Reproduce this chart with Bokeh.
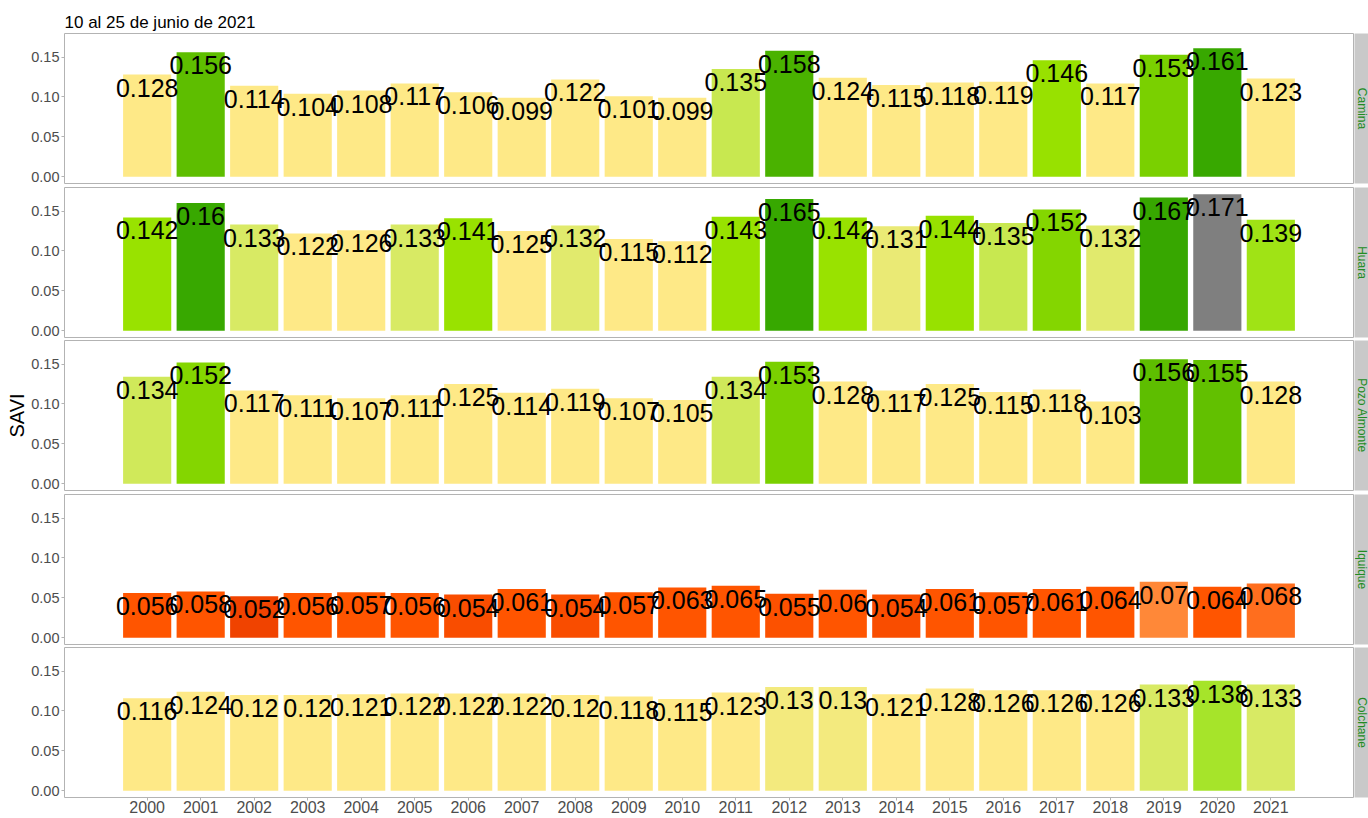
import math
from bokeh.plotting import figure
from bokeh.models import Range1d, FixedTicker, NumeralTickFormatter, ColumnDataSource
from bokeh.layouts import column, row
from bokeh.core.properties import value
from bokeh.embed import file_html
from bokeh.resources import INLINE

# ---------------- data ----------------
title_text = "10 al 25 de junio de 2021"
y_label = "SAVI"
years = list(range(2000, 2022))
panels = ["Camina", "Huara", "Pozo Almonte", "Iquique", "Colchane"]

camina = [0.128, 0.156, 0.114, 0.104, 0.108, 0.117, 0.106, 0.099, 0.122, 0.101, 0.099,
          0.135, 0.158, 0.124, 0.115, 0.118, 0.119, 0.146, 0.117, 0.153, 0.161, 0.123]
huara = [0.142, 0.16, 0.133, 0.122, 0.126, 0.133, 0.141, 0.125, 0.132, 0.115, 0.112,
         0.143, 0.165, 0.142, 0.131, 0.144, 0.135, 0.152, 0.132, 0.167, 0.171, 0.139]
pozo_almonte = [0.134, 0.152, 0.117, 0.111, 0.107, 0.111, 0.125, 0.114, 0.119, 0.107, 0.105,
                0.134, 0.153, 0.128, 0.117, 0.125, 0.115, 0.118, 0.103, 0.156, 0.155, 0.128]
iquique = [0.056, 0.058, 0.052, 0.056, 0.057, 0.056, 0.054, 0.061, 0.054, 0.057, 0.063,
           0.065, 0.055, 0.06, 0.054, 0.061, 0.057, 0.061, 0.064, 0.07, 0.064, 0.068]
colchane = [0.116, 0.124, 0.12, 0.12, 0.121, 0.122, 0.122, 0.122, 0.12, 0.118, 0.115,
            0.123, 0.13, 0.13, 0.121, 0.128, 0.126, 0.126, 0.126, 0.133, 0.138, 0.133]
series = [camina, huara, pozo_almonte, iquique, colchane]

y_ticks = [0.0, 0.05, 0.10, 0.15]

# colour scale (value stops -> colours); above the limit -> NA grey
scale_stops = [0.050, 0.052, 0.054, 0.056, 0.065, 0.068, 0.070, 0.099, 0.128, 0.130,
               0.133, 0.135, 0.138, 0.140, 0.146, 0.152, 0.153, 0.155, 0.156, 0.158,
               0.160, 0.170]
scale_colors = ["#E83C00", "#F04300", "#F94D00", "#FF5500", "#FF5500", "#FF6E1E",
                "#FF8838", "#FEE987", "#FEE987", "#F3EA7E", "#D8EA64", "#C8E850",
                "#A6E42A", "#99E200", "#98E100", "#84D600", "#7AD000", "#62C000",
                "#5EBE00", "#4AB200", "#38A800", "#36A700"]
na_color = "#7F7F7F"


def _rgb(h):
    return tuple(int(h[i:i + 2], 16) for i in (1, 3, 5))


def fill_for(v):
    if v > scale_stops[-1] + 1e-9:
        return na_color
    if v <= scale_stops[0]:
        return scale_colors[0]
    for i in range(len(scale_stops) - 1):
        a, b = scale_stops[i], scale_stops[i + 1]
        if a <= v <= b:
            t = 0 if b == a else (v - a) / (b - a)
            c1, c2 = _rgb(scale_colors[i]), _rgb(scale_colors[i + 1])
            c = [round(c1[k] + (c2[k] - c1[k]) * t) for k in range(3)]
            return "#%02X%02X%02X" % tuple(c)
    return scale_colors[-1]


# ---------------- layout ----------------
FONT = "Liberation Sans"
ymin, ymax = 0.0, max(max(s) for s in series)
ypad = (ymax - ymin) * 0.05
xpad = (21 + 0.9) * 0.05
x_range = Range1d(years[0] - 0.45 - xpad, years[-1] + 0.45 + xpad)

tops = [33, 2, 2, 2, 2]
bottoms = [2, 1, 2, 1, 21]
frame_h = 150
panel_w = 1354
strip_w = 14

rows = []
for i, (name, vals) in enumerate(zip(panels, series)):
    h = tops[i] + frame_h + bottoms[i]
    last = i == len(panels) - 1
    p = figure(width=panel_w, height=h, x_range=x_range,
               y_range=Range1d(ymin - ypad, ymax + ypad),
               output_backend="svg", toolbar_location=None,
               x_axis_location="below" if last else None,
               min_border_left=64, min_border_right=1,
               min_border_top=tops[i], min_border_bottom=bottoms[i])
    p.background_fill_color = "white"
    p.border_fill_color = "white"
    p.outline_line_color = "#B3B3B3"
    p.outline_line_width = 1
    p.xgrid.visible = False
    p.ygrid.visible = False

    src = ColumnDataSource(dict(
        year=years, val=vals,
        lab=[f"{v:g}" for v in vals],
        fill=[fill_for(v) for v in vals]))
    p.vbar(x="year", top="val", bottom=0, width=0.9, source=src,
           fill_color="fill", line_color=None)
    p.text(x="year", y="val", text="lab", source=src,
           text_align="center", text_baseline="middle", y_offset=13,
           text_font=value(FONT), text_font_size="25px", text_color="black")

    ax = p.yaxis[0]
    ax.ticker = FixedTicker(ticks=y_ticks)
    ax.formatter = NumeralTickFormatter(format="0.00")
    ax.axis_line_color = None
    ax.major_tick_line_color = "#B3B3B3"
    ax.major_tick_in = 0
    ax.major_tick_out = 3
    ax.minor_tick_line_color = None
    ax.major_label_text_font = FONT
    ax.major_label_text_font_size = "14.5px"
    ax.major_label_text_color = "#4D4D4D"
    ax.major_label_standoff = 2
    if i == 2:
        ax.axis_label = y_label
        ax.axis_label_text_font = FONT
        ax.axis_label_text_font_size = "20px"
        ax.axis_label_text_font_style = "normal"
        ax.axis_label_text_color = "black"
        ax.axis_label_standoff = 0

    if last:
        xa = p.xaxis[0]
        xa.ticker = FixedTicker(ticks=years)
        xa.axis_line_color = None
        xa.major_tick_line_color = "#B3B3B3"
        xa.major_tick_in = 0
        xa.major_tick_out = 3
        xa.minor_tick_line_color = None
        xa.major_label_text_font = FONT
        xa.major_label_text_font_size = "16px"
        xa.major_label_text_color = "#4D4D4D"
        xa.major_label_standoff = 0

    if i == 0:
        p.title.text = title_text
        p.title.text_font = FONT
        p.title.text_font_size = "17px"
        p.title.text_font_style = "normal"
        p.title.text_color = "black"
        p.title.align = "left"
        p.title.standoff = 3

    s = figure(width=strip_w, height=h, x_range=Range1d(0, strip_w), y_range=Range1d(0, 1),
               output_backend="svg", toolbar_location=None,
               x_axis_location=None, y_axis_location=None,
               min_border_left=0, min_border_right=0,
               min_border_top=tops[i], min_border_bottom=bottoms[i])
    s.background_fill_color = "#C9C9C9"
    s.border_fill_color = "white"
    s.outline_line_color = None
    s.xgrid.visible = False
    s.ygrid.visible = False
    s.text(x=[7], y=[0.5], text=[name], angle=-math.pi / 2,
           text_align="center", text_baseline="middle",
           text_font=value(FONT), text_font_size="12px", text_color="#228B22")
    rows.append(row(p, s))

layout = column(*rows)
open("out.html", "w").write(file_html(layout, INLINE))
